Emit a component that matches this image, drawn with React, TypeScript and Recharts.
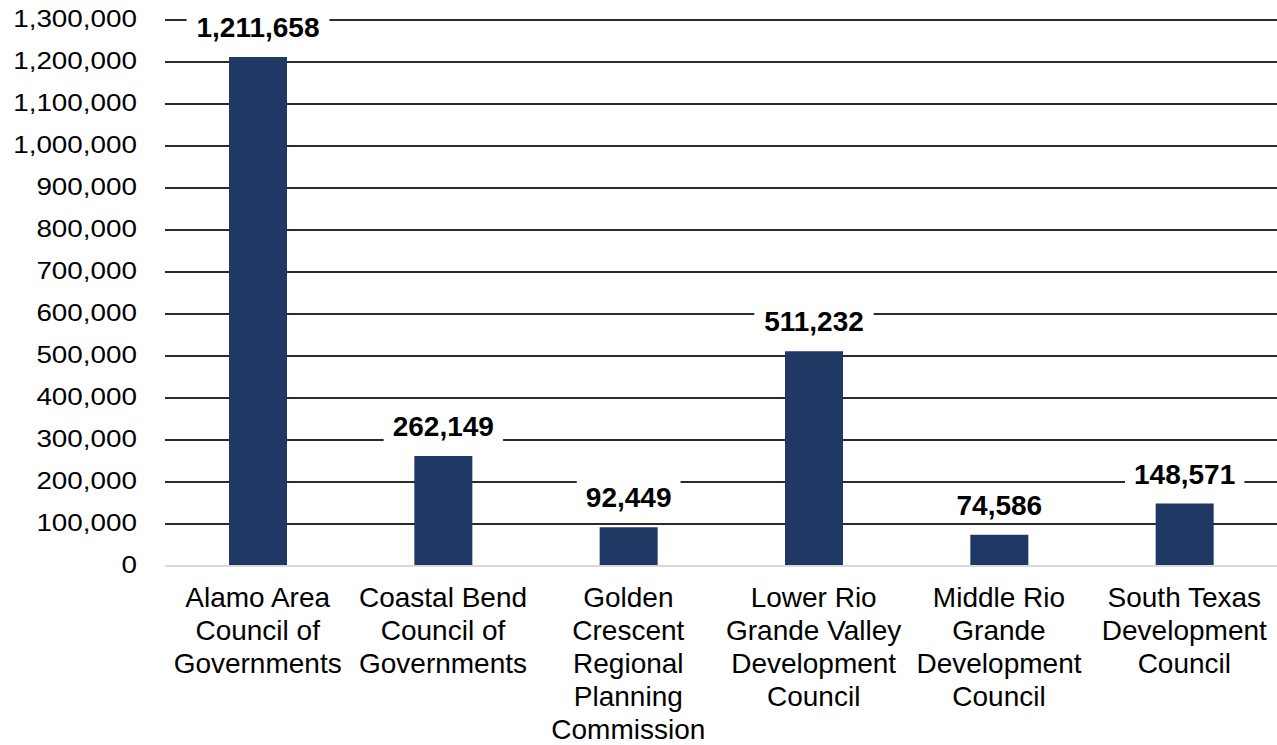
import { BarChart, Bar, XAxis, YAxis, CartesianGrid, LabelList } from 'recharts'

const categories = [
  'Alamo Area Council of Governments',
  'Coastal Bend Council of Governments',
  'Golden Crescent Regional Planning Commission',
  'Lower Rio Grande Valley Development Council',
  'Middle Rio Grande Development Council',
  'South Texas Development Council',
]

const categoryLines = [
  ['Alamo Area', 'Council of', 'Governments'],
  ['Coastal Bend', 'Council of', 'Governments'],
  ['Golden', 'Crescent', 'Regional', 'Planning', 'Commission'],
  ['Lower Rio', 'Grande Valley', 'Development', 'Council'],
  ['Middle Rio', 'Grande', 'Development', 'Council'],
  ['South Texas', 'Development', 'Council'],
]

const population = [1211658, 262149, 92449, 511232, 74586, 148571]

const yTicks = [
  0, 100000, 200000, 300000, 400000, 500000, 600000, 700000, 800000, 900000,
  1000000, 1100000, 1200000, 1300000,
]

const FONT = '"Liberation Sans", Arial, sans-serif'
const BAR = '#1f3864'

const data = categories.map((name, i) => ({ name, lines: categoryLines[i], value: population[i] }))

const fmt = (v: number) => v.toLocaleString('en-US')

function YTick({ x, y, payload }: any) {
  return (
    <text
      x={0}
      y={0}
      transform={`translate(${x},${y + 7}) scale(1.16,1)`}
      textAnchor="end"
      fontSize={24}
      fontFamily={FONT}
      fill="#000"
    >
      {fmt(payload.value)}
    </text>
  )
}

function XTick({ x, y, payload, index }: any) {
  const lines = categoryLines[index] ?? [payload.value]
  return (
    <text x={x} y={y + 41} textAnchor="middle" fontSize={28} fontFamily={FONT} fill="#000">
      {lines.map((l: string, i: number) => (
        <tspan key={i} x={x} dy={i === 0 ? 0 : 33}>
          {l}
        </tspan>
      ))}
    </text>
  )
}

function ValueLabel({ x, y, width, value }: any) {
  const text = fmt(value)
  const textW = [...text].reduce((s, c) => s + (c === ',' ? 7.8 : 15.6), 0)
  const cx = x + width / 2
  const base = y - 20
  return (
    <g>
      <rect x={cx - textW / 2 - 9} y={base - 28} width={textW + 18} height={36} fill="#fff" />
      <text x={cx} y={base} textAnchor="middle" fontSize={28} fontWeight="bold" fontFamily={FONT} fill="#000">
        {text}
      </text>
    </g>
  )
}

export default function App() {
  return (
    <div style={{ position: 'absolute', left: 0, top: 0, background: '#fff' }}>
      <BarChart width={1277} height={745} data={data} margin={{ top: 20, right: 0, bottom: 0, left: 0 }}>
        <CartesianGrid
          vertical={false}
          stroke="#2b2b2b"
          strokeWidth={2}
          horizontalValues={yTicks.slice(1)}
        />
        <XAxis
          dataKey="name"
          height={179}
          tick={<XTick />}
          tickLine={false}
          tickSize={0}
          tickMargin={0}
          interval={0}
          axisLine={{ stroke: '#d9d9d9', strokeWidth: 2 }}
        />
        <YAxis
          width={165}
          domain={[0, 1300000]}
          ticks={yTicks}
          tick={<YTick />}
          tickLine={false}
          axisLine={false}
          tickSize={0}
          tickMargin={28}
          interval={0}
        />
        <Bar dataKey="value" fill={BAR} barSize={58} isAnimationActive={false}>
          <LabelList dataKey="value" content={<ValueLabel />} />
        </Bar>
      </BarChart>
    </div>
  )
}
